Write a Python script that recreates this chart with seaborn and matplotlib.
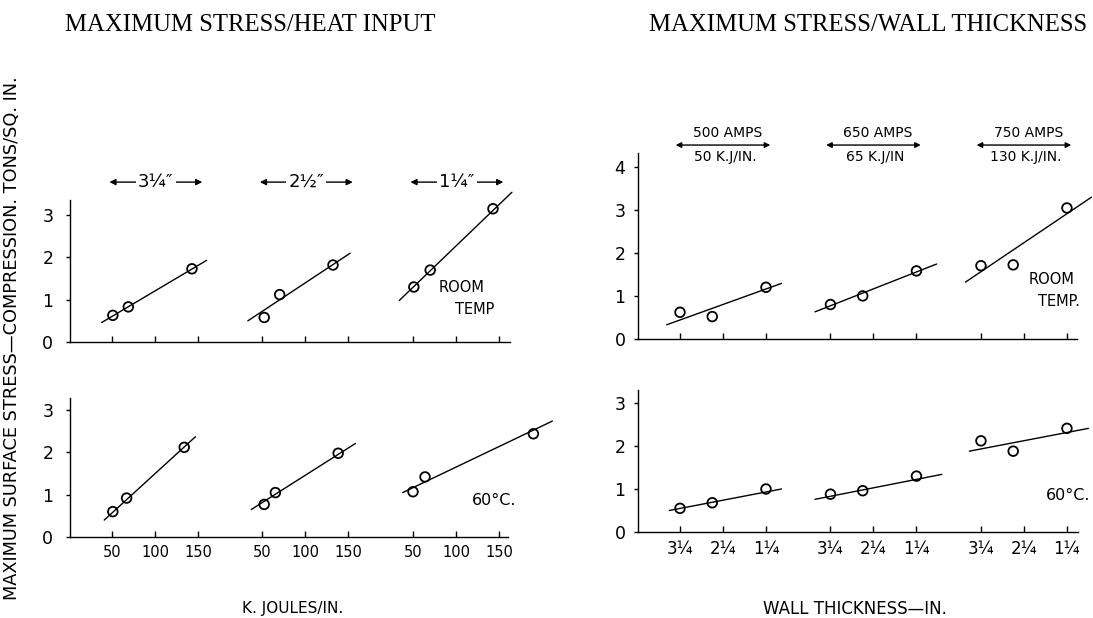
import matplotlib
matplotlib.use("Agg")
import matplotlib.pyplot as plt
import pandas as pd
import seaborn as sns

# ------------------------------------------------------------------ data
# Left: maximum stress vs heat input, one group per wall thickness
heat_groups = ["3¼″", "2½″", "1¼″"]
heat_ticks = [50, 100, 150]

heat_room_kj = [[51, 69, 143], [52, 70, 132], [51, 70, 143]]
heat_room_stress = [[0.63, 0.83, 1.73], [0.58, 1.12, 1.82], [1.30, 1.70, 3.15]]
heat_room_fit_kj = [[38, 160], [33, 152], [34, 165]]
heat_room_fit_stress = [[0.46, 1.93], [0.50, 2.10], [0.98, 3.54]]

heat_60_kj = [[51, 67, 134], [52, 65, 138], [50, 64, 190]]
heat_60_stress = [[0.60, 0.92, 2.12], [0.77, 1.05, 1.98], [1.07, 1.42, 2.44]]
heat_60_fit_kj = [[41, 147], [37, 158], [38, 212]]
heat_60_fit_stress = [[0.40, 2.37], [0.65, 2.21], [1.05, 2.74]]

# Right: maximum stress vs wall thickness, one group per current / heat input
wall_groups_amps = ["500 AMPS", "650 AMPS", "750 AMPS"]
wall_groups_kj = ["50 K.J/IN.", "65 K.J/IN", "130 K.J/IN."]
wall_ticks = [3.25, 2.25, 1.25]
wall_tick_labels = ["3¼", "2¼", "1¼"]

wall_in = [3.25, 2.5, 1.25]
wall_room_stress = [[0.62, 0.52, 1.20], [0.80, 1.00, 1.58], [1.70, 1.72, 3.04]]
wall_room_fit_in = [[3.56, 0.89], [3.61, 0.78], [3.61, 0.68]]
wall_room_fit_stress = [[0.33, 1.29], [0.63, 1.74], [1.32, 3.29]]

wall_60_stress = [[0.55, 0.68, 1.00], [0.88, 0.96, 1.30], [2.12, 1.88, 2.41]]
wall_60_fit_in = [[3.50, 0.89], [3.61, 0.66], [3.52, 0.75]]
wall_60_fit_stress = [[0.50, 1.00], [0.76, 1.34], [1.88, 2.41]]

# ------------------------------------------------------------------ layout
HEAT_SPAN = 175.0      # horizontal offset between heat-input groups
WALL_SPAN = 3.5        # horizontal offset between wall-thickness groups
W, H = 1093, 618

sns.set_style("ticks")
plt.rcParams["font.family"] = ["DejaVu Sans"]
plt.rcParams["axes.linewidth"] = 1.0
for key in ("text.color", "axes.labelcolor", "xtick.color", "ytick.color",
            "axes.edgecolor"):
    plt.rcParams[key] = "black"

fig = plt.figure(figsize=(W / 100, H / 100), dpi=100)


def rect(lpx, rpx, bpx, tpx):
    return [lpx / W, 1 - bpx / H, (rpx - lpx) / W, (bpx - tpx) / H]


def heat_x(g, v):
    return g * HEAT_SPAN + v


def wall_x(g, t):
    return g * WALL_SPAN + (wall_ticks[0] - t)


ax_lt = fig.add_axes(rect(70, 559.2, 342, 342 - 3.7 * 42.3))
ax_lb = fig.add_axes(rect(70, 559.2, 537, 537 - 3.45 * 42.3))
ax_rt = fig.add_axes(rect(638, 1092.3, 339, 339 - 4.4 * 43.1))
ax_rb = fig.add_axes(rect(638, 1092.3, 532, 532 - 3.4 * 43.0))

ax_lt.set_ylim(0, 3.7)
ax_lb.set_ylim(0, 3.45)
ax_rt.set_ylim(0, 4.4)
ax_rb.set_ylim(0, 3.4)
for ax in (ax_lt, ax_lb):
    ax.set_xlim(1.2, 570)
for ax in (ax_rt, ax_rb):
    ax.set_xlim(-0.977, 9.59)


def draw_group(ax, px, py, lx, ly):
    pts = pd.DataFrame({"x": px, "y": py})
    fit = pd.DataFrame({"x": lx, "y": ly})
    sns.lineplot(data=fit, x="x", y="y", ax=ax, color="black", lw=1.0,
                 estimator=None, sort=False)
    sns.scatterplot(data=pts, x="x", y="y", ax=ax, marker="o", s=48,
                    facecolors="none", edgecolor="black", linewidth=1.3,
                    zorder=3)


for g in range(3):
    draw_group(ax_lt, [heat_x(g, v) for v in heat_room_kj[g]], heat_room_stress[g],
               [heat_x(g, v) for v in heat_room_fit_kj[g]], heat_room_fit_stress[g])
    draw_group(ax_lb, [heat_x(g, v) for v in heat_60_kj[g]], heat_60_stress[g],
               [heat_x(g, v) for v in heat_60_fit_kj[g]], heat_60_fit_stress[g])
    draw_group(ax_rt, [wall_x(g, t) for t in wall_in], wall_room_stress[g],
               [wall_x(g, t) for t in wall_room_fit_in[g]], wall_room_fit_stress[g])
    draw_group(ax_rb, [wall_x(g, t) for t in wall_in], wall_60_stress[g],
               [wall_x(g, t) for t in wall_60_fit_in[g]], wall_60_fit_stress[g])

# axes styling
spine_specs = {
    ax_lt: ((1.2, 513), (0, 3.36), 4),
    ax_lb: ((1.2, 510), (0, 3.29), 4),
    ax_rt: ((-0.977, 9.23), (0, 4.32), 5),
    ax_rb: ((-0.977, 9.26), (0, 3.30), 4),
}
for ax, (xb, yb, ny) in spine_specs.items():
    sns.despine(ax=ax)
    ax.spines["bottom"].set_bounds(*xb)
    ax.spines["left"].set_bounds(*yb)
    ax.set_yticks(range(ny))
    ax.set_xlabel("")
    ax.set_ylabel("")
    ax.tick_params(axis="x", direction="in", length=4, width=1.0, colors="black",
                   labelsize=10.5, pad=6)
    ax.tick_params(axis="y", direction="out", length=3, width=1.0, colors="black",
                   labelsize=12.5, pad=6)
    ax.patch.set_alpha(0)

heat_tick_pos = [heat_x(g, v) for g in range(3) for v in heat_ticks]
heat_tick_lab = [str(v) for g in range(3) for v in heat_ticks]
wall_tick_pos = [wall_x(g, t) for g in range(3) for t in wall_ticks]
wall_tick_lab = [lab for g in range(3) for lab in wall_tick_labels]

ax_lt.set_xticks(heat_tick_pos)
ax_lt.set_xticklabels([])
ax_lb.set_xticks(heat_tick_pos)
ax_lb.set_xticklabels(heat_tick_lab)
ax_rt.set_xticks(wall_tick_pos)
ax_rt.set_xticklabels([])
ax_rb.set_xticks(wall_tick_pos)
ax_rb.set_xticklabels(wall_tick_lab, fontsize=12)
ax_lt.tick_params(axis="y", pad=9)
ax_lb.tick_params(axis="y", pad=9)

# group headers (left): arrows with wall thickness
for g, lab in enumerate(heat_groups):
    y = 3.78
    ax_lt.annotate("", xy=(heat_x(g, 47), y), xytext=(heat_x(g, 155), y),
                   arrowprops=dict(arrowstyle="<|-|>", color="black", lw=1.0,
                                   mutation_scale=9, shrinkA=0, shrinkB=0),
                   annotation_clip=False)
    ax_lt.text(heat_x(g, 101), y, lab, ha="center", va="center", fontsize=13,
               bbox=dict(fc="white", ec="none", pad=1.5), clip_on=False)

# group headers (right): amps over kJ/in with arrow
for g in range(3):
    ax_rt.annotate("", xy=(g * WALL_SPAN - 0.1, 4.5), xytext=(g * WALL_SPAN + 2.1, 4.5),
                   arrowprops=dict(arrowstyle="<|-|>", color="black", lw=1.0,
                                   mutation_scale=8, shrinkA=0, shrinkB=0),
                   annotation_clip=False)
    ax_rt.text(g * WALL_SPAN + 1.1, 4.62, wall_groups_amps[g], ha="center",
               va="bottom", fontsize=10, clip_on=False)
    ax_rt.text(g * WALL_SPAN + 1.05, 4.38, wall_groups_kj[g], ha="center",
               va="top", fontsize=10, clip_on=False)

# condition labels
ax_lt.text(456, 1.28, "ROOM", ha="center", va="center", fontsize=10.5)
ax_lt.text(472, 0.76, "TEMP", ha="center", va="center", fontsize=10.5)
ax_lb.text(494, 0.87, "60°C.", ha="center", va="center", fontsize=11.5)
ax_rt.text(8.65, 1.39, "ROOM", ha="center", va="center", fontsize=10.5)
ax_rt.text(8.81, 0.87, "TEMP.", ha="center", va="center", fontsize=10.5)
ax_rb.text(9.03, 0.86, "60°C.", ha="center", va="center", fontsize=11.5)

# titles and axis labels
fig.text(250 / W, 1 - 25 / H, "MAXIMUM STRESS/HEAT INPUT", ha="center", va="center",
         fontsize=17.8, family="Liberation Serif")
fig.text(868 / W, 1 - 25 / H, "MAXIMUM STRESS/WALL THICKNESS", ha="center",
         va="center", fontsize=17.8, family="Liberation Serif")
fig.text(12 / W, 1 - 338 / H, "MAXIMUM SURFACE STRESS—COMPRESSION. TONS/SQ. IN.",
         rotation=90, ha="center", va="center", fontsize=12.8)
fig.text(293 / W, 1 - 609 / H, "K. JOULES/IN.", ha="center", va="center", fontsize=11)
fig.text(855 / W, 1 - 609 / H, "WALL THICKNESS—IN.", ha="center", va="center",
         fontsize=12)

fig.savefig("out.png", dpi=100, facecolor="white")
